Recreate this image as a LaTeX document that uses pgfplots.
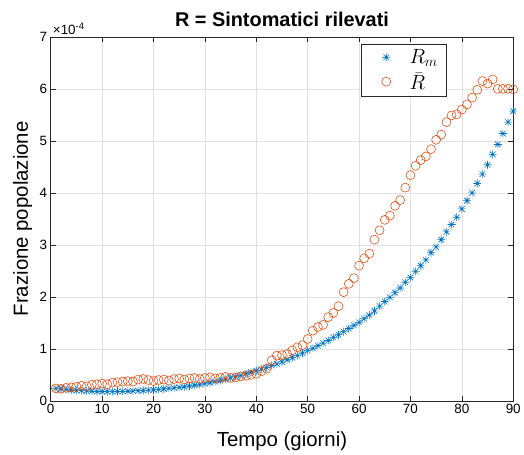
\documentclass[border=0pt]{standalone}
\usepackage{fontspec}
\setmainfont{Liberation Sans}
\usepackage{pgfplots}
\pgfplotsset{compat=1.18}
\usepackage{pgfplotstable}

\definecolor{mblue}{RGB}{0,114,189}
\definecolor{morange}{RGB}{217,83,25}
\definecolor{mgrid}{RGB}{225,225,225}
\definecolor{maxis}{RGB}{38,38,38}

\pgfdeclareplotmark{mstar}{%
 \pgfpathmoveto{\pgfqpoint{-\pgfplotmarksize}{0pt}}\pgfpathlineto{\pgfqpoint{\pgfplotmarksize}{0pt}}%
 \pgfpathmoveto{\pgfqpoint{0pt}{-\pgfplotmarksize}}\pgfpathlineto{\pgfqpoint{0pt}{\pgfplotmarksize}}%
 \pgfpathmoveto{\pgfqpoint{-.7071\pgfplotmarksize}{-.7071\pgfplotmarksize}}\pgfpathlineto{\pgfqpoint{.7071\pgfplotmarksize}{.7071\pgfplotmarksize}}%
 \pgfpathmoveto{\pgfqpoint{-.7071\pgfplotmarksize}{.7071\pgfplotmarksize}}\pgfpathlineto{\pgfqpoint{.7071\pgfplotmarksize}{-.7071\pgfplotmarksize}}%
 \pgfusepathqstroke}

% values in units of 1e-4
\pgfplotstableread{
x rm rbar
1 0.24 0.24
2 0.23 0.23
3 0.22 0.25
4 0.21 0.26
5 0.20 0.27
6 0.195 0.29
7 0.19 0.28
8 0.185 0.31
9 0.18 0.32
10 0.18 0.33
11 0.178 0.32
12 0.178 0.35
13 0.18 0.36
14 0.182 0.37
15 0.185 0.38
16 0.19 0.37
17 0.195 0.41
18 0.20 0.42
19 0.205 0.40
20 0.21 0.38
21 0.22 0.40
22 0.23 0.41
23 0.24 0.39
24 0.25 0.42
25 0.26 0.43
26 0.27 0.41
27 0.285 0.43
28 0.30 0.44
29 0.315 0.42
30 0.33 0.44
31 0.35 0.45
32 0.37 0.43
33 0.39 0.44
34 0.415 0.46
35 0.44 0.44
36 0.465 0.45
37 0.49 0.47
38 0.52 0.48
39 0.55 0.50
40 0.58 0.52
41 0.61 0.57
42 0.64 0.62
43 0.68 0.78
44 0.71 0.87
45 0.75 0.88
46 0.79 0.90
47 0.83 0.97
48 0.87 1.03
49 0.92 1.07
50 0.97 1.19
51 1.01 1.35
52 1.06 1.42
53 1.11 1.46
54 1.16 1.61
55 1.22 1.69
56 1.27 1.82
57 1.33 2.09
58 1.39 2.25
59 1.45 2.36
60 1.51 2.60
61 1.58 2.74
62 1.65 2.83
63 1.73 3.10
64 1.82 3.28
65 1.91 3.48
66 1.99 3.56
67 2.08 3.75
68 2.17 3.86
69 2.28 4.10
70 2.37 4.34
71 2.49 4.52
72 2.60 4.63
73 2.71 4.70
74 2.85 4.84
75 2.96 5.02
76 3.10 5.12
77 3.25 5.36
78 3.39 5.49
79 3.53 5.51
80 3.69 5.60
81 3.85 5.70
82 4.00 5.83
83 4.18 5.98
84 4.36 6.15
85 4.54 6.10
86 4.74 6.18
87 4.93 6.00
88 5.14 6.00
89 5.36 6.00
90 5.57 5.99
}\datatable

\begin{document}
\begin{tikzpicture}
\begin{axis}[
  scale only axis, width=465pt, height=366pt,
  xmin=0, xmax=90, ymin=0, ymax=7,
  xtick={0,10,...,90}, ytick={0,1,...,7},
  tick align=inside, tick pos=both,
  major tick length=5pt,
  grid=major, grid style={mgrid, line width=0.6pt},
  axis line style={maxis, line width=0.6pt},
  tick style={maxis, line width=0.6pt},
  ticklabel style={font=\fontsize{13.5}{13.5}\selectfont, text=black},
  /pgf/number format/assume math mode=true,
  xlabel={Tempo (giorni)}, ylabel={Frazione popolazione},
  x label style={at={(axis description cs:0.5,-0.126)}, anchor=base, font=\fontsize{20.5}{20.5}\selectfont},
  y label style={at={(axis description cs:-0.0495,0.5)}, anchor=base, rotate=0, font=\fontsize{20.5}{20.5}\selectfont},
  title={R = Sintomatici rilevati},
  title style={at={(axis description cs:0.5,1.0273)}, anchor=base, yshift=-6pt, font=\bfseries\fontsize{20}{20}\selectfont},
  legend style={at={(axis description cs:0.671,0.981)}, anchor=north west, draw=maxis, line width=0.6pt, fill=white,
    font=\fontsize{21}{21}\selectfont, inner xsep=6pt, inner ysep=3pt, row sep=2.5pt,
    nodes={inner sep=2.5pt}},
  legend cell align=left,
  legend image code/.code={\path[draw=none,fill=none] (0pt,-5pt) (40pt,5pt);
    \draw[mark repeat=2,mark phase=2,#1] plot coordinates {(0pt,0pt)(19pt,0pt)(40pt,0pt)};},
  clip=false,
]
\addplot[only marks, mark=mstar, mark size=4pt, mblue, line width=0.6pt] table[x=x, y=rm] {\datatable};
\addlegendentry{$R_m$}
\addplot[only marks, mark=o, mark size=4.5pt, morange, line width=0.6pt] table[x=x, y=rbar] {\datatable};
\addlegendentry{$\bar{R}$}
\coordinate (bl) at (rel axis cs:0,0);
\coordinate (tl) at (rel axis cs:0,1);
\end{axis}
\node[anchor=base west, font=\fontsize{13.5}{13.5}\selectfont, inner sep=0pt] at ([xshift=2pt,yshift=2.5pt]tl) {×10\textsuperscript{-4}};
\path (bl) ++(-51pt,-49pt) rectangle ++(524pt,452pt);
\end{tikzpicture}
\end{document}
